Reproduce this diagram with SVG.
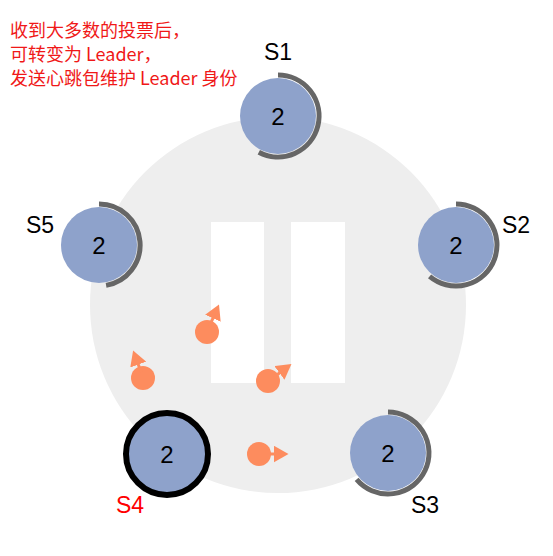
<svg xmlns="http://www.w3.org/2000/svg" width="553" height="556" viewBox="0 0 553 556">
<style>
.node{fill:#8EA2CB}
.arc{fill:none;stroke:#666;stroke-width:5}
.num{font-family:"Liberation Sans",Arial,sans-serif;font-size:24px;fill:#000;text-anchor:middle}
.lbl{font-family:"Liberation Sans",Arial,sans-serif;font-size:23px;fill:#000;text-anchor:middle}
.note{font-family:"Noto Sans CJK SC","Liberation Sans",sans-serif;font-size:18px;fill:#F01818}
.dot{fill:#FD8C5E}
.vec{stroke:#FD8C5E;stroke-width:3;fill:none;marker-end:url(#ah)}
</style>
<defs>
<marker id="ah" viewBox="0 0 15 17" refX="0.5" refY="8.5" markerWidth="15" markerHeight="17" orient="auto" markerUnits="userSpaceOnUse">
<path d="M0,0 L15,8.5 L0,17 z" fill="#FD8C5E"/>
</marker>
</defs>
<rect width="553" height="556" fill="#fff"/>
<circle cx="278" cy="305" r="188" fill="#EEEEEE"/>
<rect x="211" y="222" width="53" height="161" fill="#fff"/>
<rect x="291" y="222" width="54" height="161" fill="#fff"/>
<g id="note">
<text class="note" x="10" y="37">收到大多数的投票后，</text>
<text class="note" x="10" y="61">可转变为 Leader，</text>
<text class="note" x="10" y="85">发送心跳包维护 Leader 身份</text>
</g>
<g id="connectors">
<circle class="dot" cx="207" cy="332" r="12"/>
<path class="vec" d="M209,327 L213.1,317.8"/>
<circle class="dot" cx="143" cy="378" r="12"/>
<path class="vec" d="M141,372 L138.1,364.1"/>
<circle class="dot" cx="268" cy="381" r="12"/>
<path class="vec" d="M274,377 L279.8,372.7"/>
<circle class="dot" cx="259" cy="454" r="12"/>
<path class="vec" d="M266,454 L274,454"/>
</g>
<g id="S1">
<circle class="node" cx="278" cy="116" r="38"/>
<path class="arc" d="M278,75 A41,41 0 1 1 258.8,152.2"/>
<text class="num" x="278" y="125">2</text>
<text class="lbl" x="278" y="60">S1</text>
</g>
<g id="S2">
<circle class="node" cx="456" cy="245" r="38"/>
<path class="arc" d="M456,204 A41,41 0 1 1 429.6,276.4"/>
<text class="num" x="456" y="254">2</text>
<text class="lbl" x="516" y="233">S2</text>
</g>
<g id="S3">
<circle class="node" cx="388" cy="453" r="38"/>
<path class="arc" d="M388,412 A41,41 0 1 1 356.6,479.4"/>
<text class="num" x="388" y="462">2</text>
<text class="lbl" x="425" y="513">S3</text>
</g>
<g id="S4">
<circle class="node" cx="167" cy="454" r="41" stroke="#000" stroke-width="6"/>
<text class="num" x="167" y="463">2</text>
<text class="lbl" x="130" y="513" style="fill:#F00">S4</text>
</g>
<g id="S5">
<circle class="node" cx="99" cy="245" r="38"/>
<path class="arc" d="M99,204 A41,41 0 0 1 106.1,285.4"/>
<text class="num" x="99" y="254">2</text>
<text class="lbl" x="40" y="233">S5</text>
</g>
</svg>
